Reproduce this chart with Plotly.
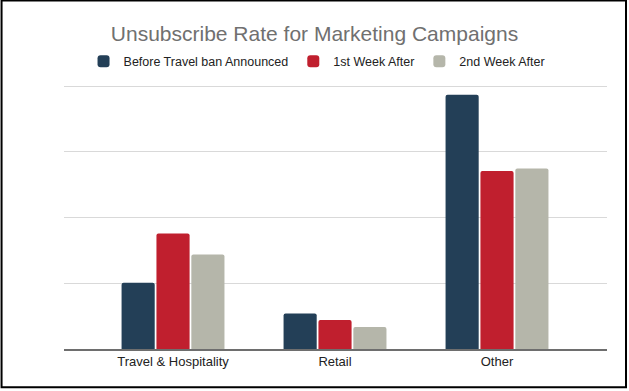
import plotly.graph_objects as go

categories = ["Travel & Hospitality", "Retail", "Other"]
series_names = ["Before Travel ban Announced", "1st Week After", "2nd Week After"]
before_ban = [1.01, 0.54, 3.87]
week1_after = [1.76, 0.44, 2.71]
week2_after = [1.44, 0.335, 2.75]
colors = ["#233F57", "#C01F2E", "#B5B6AA"]

fig = go.Figure()
for name, vals, col in zip(series_names, [before_ban, week1_after, week2_after], colors):
    fig.add_trace(go.Bar(x=categories, y=vals, name=name, marker_color=col,
                         marker_line_width=0))

FONT = "Arial, 'Liberation Sans', sans-serif"
fig.update_layout(
    width=629, height=391,
    margin=dict(l=64, r=22, t=83, b=42),
    paper_bgcolor="white", plot_bgcolor="white",
    barmode="group", bargap=0.354, bargroupgap=0.05, barcornerradius=2,
    title=dict(text="Unsubscribe Rate for Marketing Campaigns", x=0.5, xanchor="center",
               y=0.915, yanchor="middle", xref="container",
               font=dict(family=FONT, size=21, color="#707070")),
    legend=dict(orientation="h", x=0.466, xanchor="center", xref="paper",
                y=1.08, yanchor="middle", font=dict(family=FONT, size=12.5, color="#222222"),
                itemwidth=30, traceorder="normal"),
    showlegend=True,
    font=dict(family=FONT),
)
fig.update_xaxes(range=[-0.673, 2.679], showline=True, linecolor="#6e6e6e", linewidth=1.5,
                 showgrid=False, ticks="", tickfont=dict(family=FONT, size=13, color="#222222"),
                 fixedrange=True)
fig.update_yaxes(range=[0, 4.05], dtick=1, showticklabels=False, gridcolor="#d9d9d9",
                 gridwidth=1, zeroline=False, fixedrange=True)
fig.add_shape(type="rect", xref="paper", yref="paper",
              x0=-0.115, x1=1.035, y0=-0.144, y1=1.31,
              line=dict(color="black", width=2), fillcolor="rgba(0,0,0,0)", layer="above")
fig.write_html("out.html", config={"displayModeBar": False},
               post_script="document.body.style.margin='0';document.body.style.overflow='hidden';")
